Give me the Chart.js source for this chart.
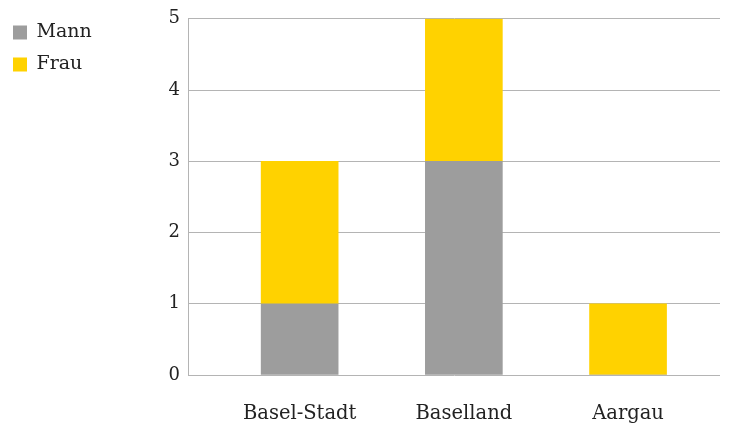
<!DOCTYPE html>
<html>
<head>
<meta charset="utf-8">
<script src="https://cdn.jsdelivr.net/npm/chart.js@4/dist/chart.umd.min.js"></script>
<style>
  html, body { margin: 0; padding: 0; background: #fff; }
  #wrap { width: 735px; height: 427px; }
</style>
</head>
<body>
<div id="wrap"><canvas id="chart"></canvas></div>
<script>
const categories = ['Basel-Stadt', 'Baselland', 'Aargau'];
const mann = [1, 3, 0];
const frau = [2, 2, 1];
const yTicks = [0, 1, 2, 3, 4, 5];

const PLOT_LEFT = 188;

function toPoints(values) {
    return values.map(function (v, i) {
        return { x: i, y: v };
    });
}

const data = {
    datasets: [
        {
            label: 'Mann',
            data: toPoints(mann),
            backgroundColor: '#9d9d9d',
            stack: 's',
            barThickness: 77
        },
        {
            label: 'Frau',
            data: toPoints(frau),
            backgroundColor: '#ffd200',
            stack: 's',
            barThickness: 77
        }
    ]
};

// nudge the legend up a bit, it sits right at the top corner
const legendNudge = {
    id: 'legendNudge',
    afterUpdate: function (chart) {
        const legend = chart.legend;
        if (!legend) return;
        legend.top -= 8;
        legend.adjustHitBoxes();
    }
};

Chart.defaults.font.family = '"DejaVu Serif", serif';
Chart.defaults.font.size = 18;
Chart.defaults.color = '#222';

new Chart(document.getElementById('chart'), {
    type: 'bar',
    data: data,
    plugins: [legendNudge],
    options: {
        responsive: true,
        maintainAspectRatio: false,
        animation: false,
        layout: { padding: { top: 18, right: 15, bottom: 0, left: 0 } },
        plugins: {
            tooltip: { enabled: false },
            legend: {
                position: 'left',
                align: 'start',
                labels: {
                    boxWidth: 14,
                    boxHeight: 14,
                    padding: 13,
                    font: { size: 19 }
                }
            }
        },
        scales: {
            x: {
                type: 'linear',
                offset: false,
                min: -0.68,
                max: 2.56,
                grid: { display: false },
                border: { display: false },
                ticks: {
                    stepSize: 1,
                    includeBounds: false,
                    autoSkip: false,
                    maxRotation: 0,
                    padding: 19,
                    font: { size: 19.5 },
                    callback: function (v) {
                        return categories[v] !== undefined ? categories[v] : '';
                    }
                },
                afterFit: function (scale) {
                    scale.height = 52;
                }
            },
            y: {
                stacked: true,
                min: yTicks[0],
                max: yTicks[yTicks.length - 1],
                grid: { color: '#b4b4b4', drawTicks: false },
                border: { display: true, color: '#b4b4b4' },
                ticks: { stepSize: 1, padding: 8 },
                afterFit: function (scale) {
                    const legend = scale.chart.legend;
                    const lw = legend ? legend.width : 0;
                    scale.width = PLOT_LEFT - lw;
                }
            }
        }
    }
});
</script>
</body>
</html>
